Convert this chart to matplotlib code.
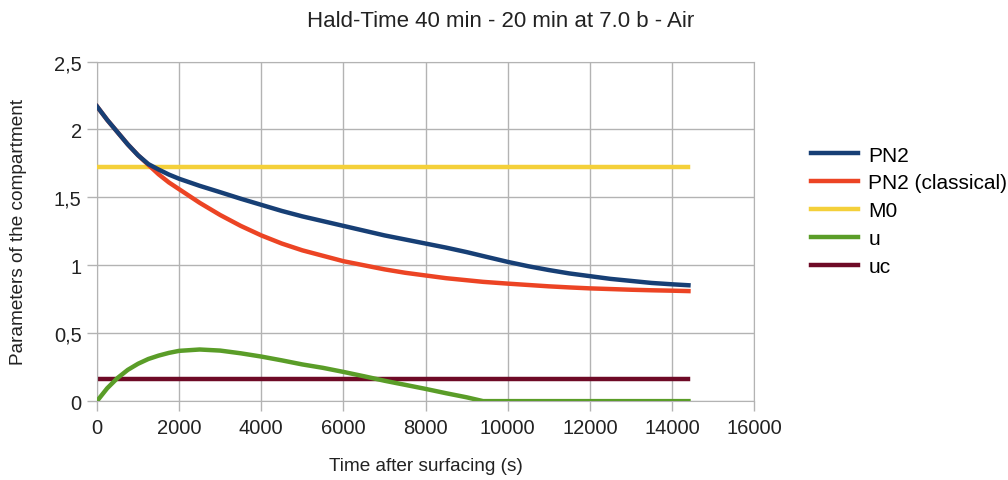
import matplotlib
matplotlib.use('Agg')
import matplotlib.pyplot as plt

plt.rcParams['font.family'] = ['Liberation Sans', 'DejaVu Sans']

# time after surfacing (s)
t = [0, 250, 500, 750, 1000, 1250, 1500, 1750, 2000,
     2500, 3000, 3500, 4000, 4500, 5000, 5500, 6000, 6500, 7000, 7500, 8000, 8500, 9000,
     9400,
     10000, 10500, 11000, 11500, 12000, 12500, 13000, 13500, 14000,
     14400]

pn2 = [2.17, 2.07, 1.98, 1.89, 1.81, 1.745, 1.705, 1.668, 1.637,
       1.585, 1.538, 1.49, 1.445, 1.40, 1.36, 1.325, 1.29, 1.255, 1.22, 1.19, 1.16, 1.13, 1.097,
       1.068,
       1.025, 0.993, 0.965, 0.94, 0.92, 0.90, 0.885, 0.87, 0.86,
       0.853]

pn2_classical = [2.17, 2.07, 1.98, 1.89, 1.81, 1.74, 1.67, 1.61, 1.56,
                 1.46, 1.37, 1.29, 1.22, 1.16, 1.11, 1.07, 1.03, 1.0, 0.97, 0.945, 0.925, 0.905, 0.89,
                 0.878,
                 0.865, 0.855, 0.845, 0.837, 0.83, 0.825, 0.82, 0.816, 0.813,
                 0.81]

u = [0.0, 0.095, 0.17, 0.23, 0.275, 0.31, 0.335, 0.355, 0.37,
     0.38, 0.372, 0.352, 0.328, 0.30, 0.27, 0.245, 0.215, 0.183, 0.15, 0.12, 0.09, 0.058, 0.028,
     0.0,
     0.0, 0.0, 0.0, 0.0, 0.0, 0.0, 0.0, 0.0, 0.0,
     0.0]

m0 = 1.723
uc = 0.163

fig = plt.figure(figsize=(10.08, 4.81), dpi=100)
ax = fig.add_axes([0.0962, 0.164, 0.652, 0.706])

lw = 3.2
ax.plot(t, pn2, color='#173f75', lw=lw, label='PN2', zorder=5, solid_joinstyle='round')
ax.plot(t, pn2_classical, color='#ec4424', lw=lw, label='PN2 (classical)', zorder=4,
        solid_joinstyle='round')
ax.plot([t[0], t[-1]], [m0, m0], color='#f4d03a', lw=lw, label='M0', zorder=3)
ax.plot(t, u, color='#5a9d28', lw=lw, label='u', zorder=3, solid_joinstyle='round')
ax.plot([t[0], t[-1]], [uc, uc], color='#6e0a26', lw=lw, label='uc', zorder=2)

ax.set_xlim(0, 16000)
ax.set_ylim(0, 2.5)
ax.set_xticks(range(0, 16001, 2000))
yt = [0, 0.5, 1, 1.5, 2, 2.5]
ax.set_yticks(yt)
ax.set_yticklabels([('%g' % v).replace('.', ',') for v in yt])
ax.grid(True, color='#b3b3b3', lw=1)
ax.set_axisbelow(True)
for s in ax.spines.values():
    s.set_color('#b3b3b3')
ax.tick_params(colors='#b3b3b3', labelcolor='#222222', length=7, width=1,
               labelsize=14.5)
ax.tick_params(axis='x', pad=5)
ax.tick_params(axis='y', pad=4)

ax.set_xlabel('Time after surfacing (s)', fontsize=13.7, color='#222222')
ax.set_ylabel('Parameters of the compartment', fontsize=13.7, color='#222222')
ax.xaxis.set_label_coords(0.5, -0.165)
ax.yaxis.set_label_coords(-0.107, 0.5)
fig.text(0.497, 0.955, 'Hald-Time 40 min - 20 min at 7.0 b - Air', ha='center',
         va='center', fontsize=16, color='#222222')

leg = ax.legend(loc='center left', bbox_to_anchor=(1.087, 0.56), frameon=False,
                fontsize=15, handlelength=2.26, labelspacing=0.43, handletextpad=0.48,
                borderpad=0, borderaxespad=0)

fig.savefig('out.png', dpi=100)
